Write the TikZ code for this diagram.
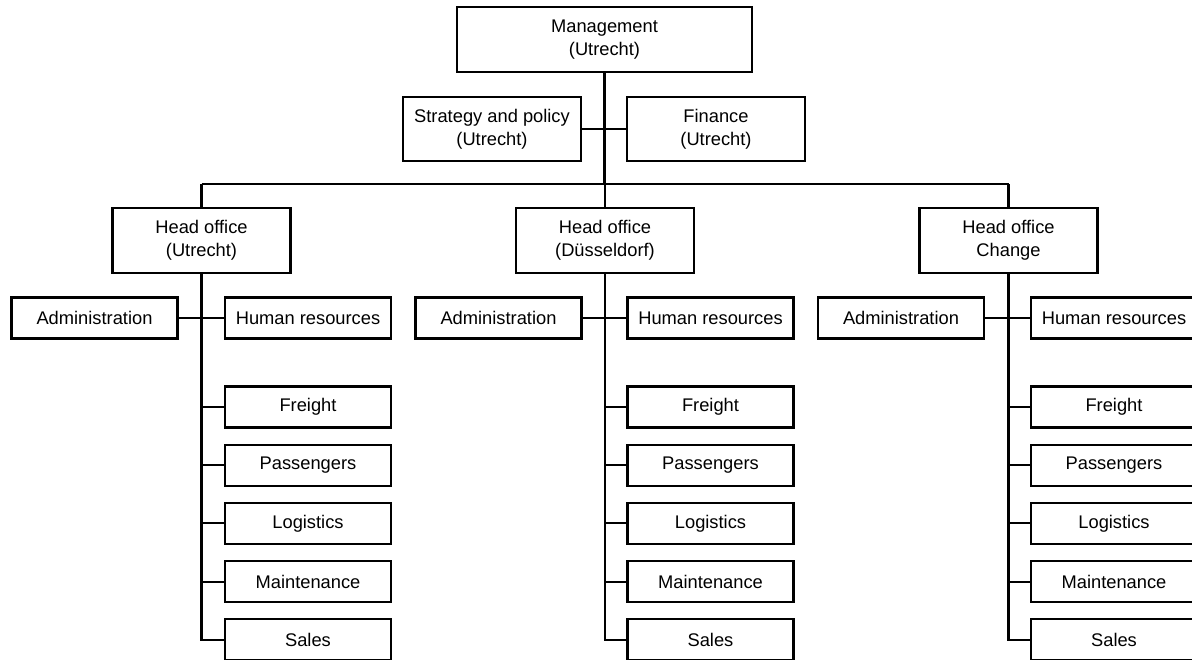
\documentclass[tikz,border=0pt]{standalone}
\usepackage{fontspec}
\setmainfont{Liberation Sans}
\begin{document}
\begin{tikzpicture}[x=1pt,y=-1pt,
  every node/.style={font=\fontsize{18.3}{23}\selectfont},
  box/.style={draw, line width=2.1pt, inner sep=0pt, align=center, fill=white},
  bigbox/.style={box, minimum width=178pt, minimum height=64pt},
  smallbox/.style={box, minimum width=166pt, minimum height=41pt},
  link/.style={line width=2.1pt}]
\clip (0,0) rectangle (1192,659);
\fill[white] (0,0) rectangle (1192,659);
\node[box, minimum width=295pt, minimum height=65pt] (mgmt) at (604.5,39.5) {Management\\(Utrecht)};
\node[bigbox] (strat) at (492,129) {Strategy and policy\\(Utrecht)};
\node[bigbox] (fin) at (716,129) {Finance\\(Utrecht)};
\coordinate (busL) at (201.5,184);
\coordinate (busR) at (1008.5,184);
\draw[link] (strat.east) -- (fin.west);
\draw[link] (mgmt.south) -- (mgmt.south |- busL);
\draw[link] (busL) -- (busR);
\foreach \c/\hx/\ax/\rx/\lab in {L/201.5/94.5/308/(Utrecht), M/605/498.5/710.5/(Düsseldorf), R/1008.5/901/1114/Change}{
  \node[bigbox, minimum height=65pt] (ho\c) at (\hx,240.5) {Head office\\\lab};
  \node[smallbox] (adm\c) at (\ax,318) {Administration};
  \node[smallbox] (hr\c) at (\rx,318) {Human resources};
  \node[smallbox] (fr\c) at (\rx,407) {Freight};
  \node[smallbox] (pa\c) at (\rx,465.2) {Passengers};
  \node[smallbox] (lo\c) at (\rx,523.4) {Logistics};
  \node[smallbox] (ma\c) at (\rx,581.6) {Maintenance};
  \node[smallbox] (sa\c) at (\rx,639.8) {Sales};
  \draw[link] (ho\c.north) -- (ho\c.north |- busL);
  \draw[link] (adm\c.east) -- (hr\c.west);
  \draw[link] (ho\c.south) -- (ho\c.south |- sa\c.west) -- (sa\c.west);
  \foreach \s in {fr,pa,lo,ma}{
    \draw[link] (\s\c.west) -- (\s\c.west -| ho\c.south);
  }
}
\end{tikzpicture}
\end{document}
